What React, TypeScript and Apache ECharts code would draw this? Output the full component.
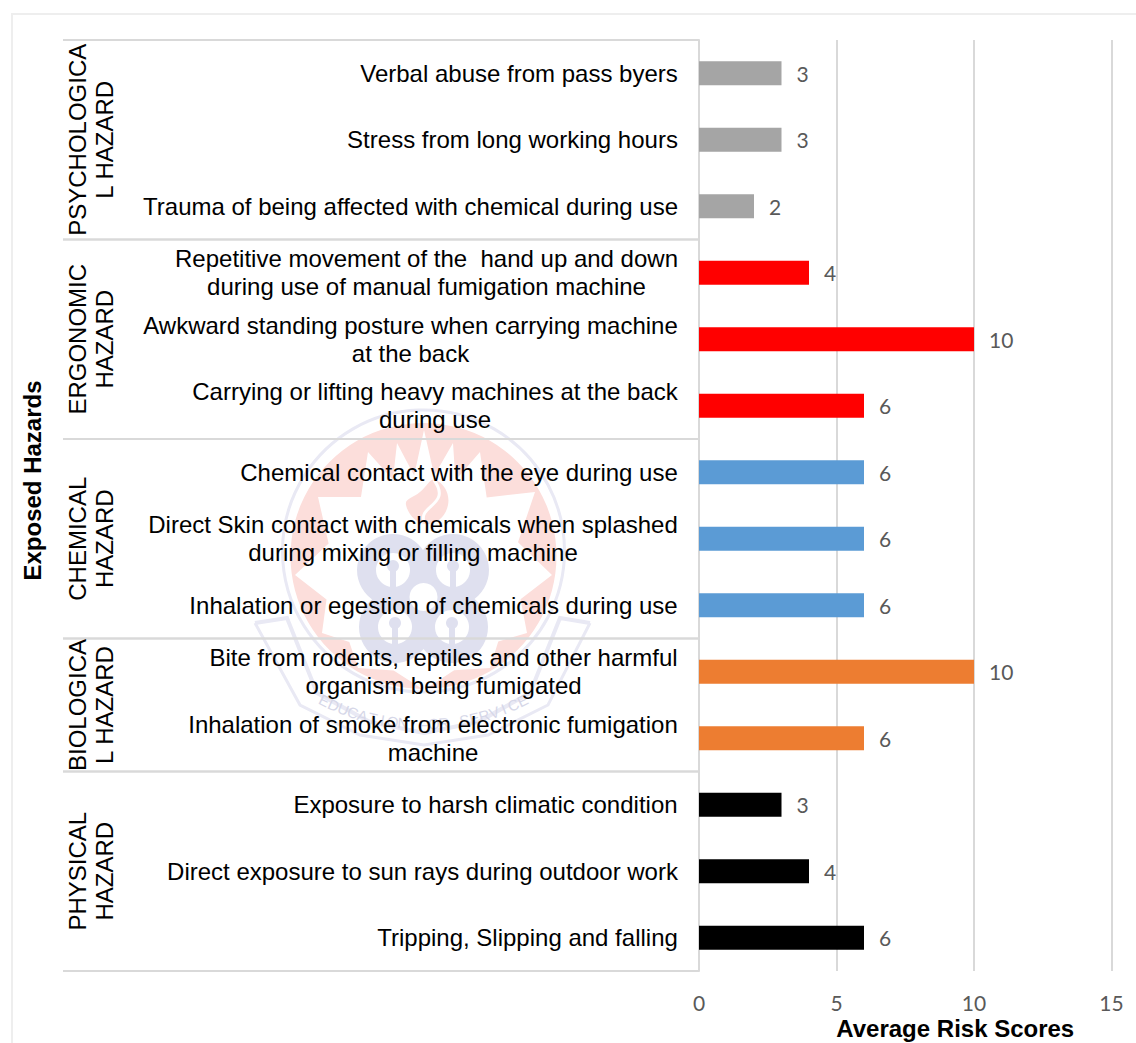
import React, { useEffect, useRef } from "react";
import * as echarts from "echarts";

// Hazard items, listed from the top row to the bottom row.
const hazardItems = [
  "Verbal abuse from pass byers",
  "Stress from long working hours",
  "Trauma of being affected with chemical during use",
  "Repetitive movement of the  hand up and down\nduring use of manual fumigation machine",
  "Awkward standing posture when carrying machine\nat the back",
  "Carrying or lifting heavy machines at the back\nduring use",
  "Chemical contact with the eye during use",
  "Direct Skin contact with chemicals when splashed\nduring mixing or filling machine",
  "Inhalation or egestion of chemicals during use",
  "Bite from rodents, reptiles and other harmful\norganism being fumigated",
  "Inhalation of smoke from electronic fumigation\nmachine",
  "Exposure to harsh climatic condition",
  "Direct exposure to sun rays during outdoor work",
  "Tripping, Slipping and falling",
];
const riskScores = [3, 3, 2, 4, 10, 6, 6, 6, 6, 10, 6, 3, 4, 6];
const barColors = [
  "#a5a5a5", "#a5a5a5", "#a5a5a5",
  "#ff0000", "#ff0000", "#ff0000",
  "#5b9bd5", "#5b9bd5", "#5b9bd5",
  "#ed7d31", "#ed7d31",
  "#000000", "#000000", "#000000",
];
const groupNames = [
  "PSYCHOLOGICA\nL HAZARD",
  "ERGONOMIC\nHAZARD",
  "CHEMICAL\nHAZARD",
  "BIOLOGICA\nL HAZARD",
  "PHYSICAL\nHAZARD",
];
const groupFirstRow = [0, 3, 6, 9, 11];
const groupLastRow = [2, 5, 8, 10, 13];

const ARIAL = '"Liberation Sans", Arial, sans-serif';
const VALUE_FONT = 'Lato, sans-serif';
const LABEL_SIZE = 24;
const LINE_GREY = "#d9d9d9";

// Widest line of a label, so that its shorter line can be centred under it.
function labelBlockWidth(label: string): number {
  const ctx = document.createElement("canvas").getContext("2d")!;
  ctx.font = `${LABEL_SIZE}px "Liberation Sans"`;
  return Math.ceil(Math.max(...label.split("\n").map((l) => ctx.measureText(l).width)));
}

// Faint university crest printed behind the chart.
function crestElements(): any[] {
  const RED = "#fcdedb";
  const LILAC = "#dfe0ef";
  const RING = "#e9e9f4";
  const cx = 423.5;
  const cy = 575;
  const tips: [number, number][] = [
    [424, 430], [453, 443], [480, 452], [535, 492], [552, 575], [527, 633], [490, 668],
    [424, 690], [358, 668], [322, 633], [295, 575], [318, 497], [368, 452], [397, 443],
  ];
  const star: [number, number][] = [];
  tips.forEach((t, i) => {
    const n = tips[(i + 1) % tips.length];
    star.push(t);
    const mx = (t[0] + n[0]) / 2 - cx;
    const my = (t[1] + n[1]) / 2 - cy;
    const d = Math.hypot(mx, my);
    star.push([cx + (mx / d) * 100, cy + (my / d) * 100]);
  });
  const lobes: [number, number][] = [[393, 570], [453, 570], [395, 627], [452, 627]];
  const motto = "EDUCATION FOR SERVICE";
  const mottoRadius = 222;
  const mottoCy = 502;
  const stepDeg = 2.65;
  const els: any[] = [
    { type: "circle", z: -20, shape: { cx, cy: 551, r: 141 }, style: { fill: "none", stroke: RING, lineWidth: 3 } },
    { type: "circle", z: -19, shape: { cx, cy: 556, r: 133 }, style: { fill: RED } },
    { type: "polygon", z: -18, shape: { points: star }, style: { fill: "#ffffff" } },
    {
      type: "polygon", z: -17,
      shape: { points: [[436, 480], [448, 505], [427, 524], [406, 505], [420, 492]], smooth: 0.5 },
      style: { fill: RED },
    },
    {
      type: "bezierCurve", z: -16,
      shape: { x1: 434, y1: 480, x2: 424, y2: 522, cpx1: 452, cpy1: 505, cpx2: 418, cpy2: 505 },
      style: { fill: "none", stroke: "#ffffff", lineWidth: 3 },
    },
    {
      type: "polyline", z: -17,
      shape: { points: [[255, 623], [287, 618], [317, 693], [370, 722], [424, 733], [478, 722], [530, 693], [560, 618], [590, 623]] },
      style: { fill: "none", stroke: RING, lineWidth: 4 },
    },
    {
      type: "polyline", z: -17,
      shape: { points: [[255, 623], [300, 705], [360, 735], [424, 745], [488, 735], [548, 705], [590, 623]] },
      style: { fill: "none", stroke: RING, lineWidth: 3 },
    },
  ];
  lobes.forEach(([x, y]) => {
    els.push({ type: "circle", z: -16, shape: { cx: x, cy: y, r: 36 }, style: { fill: LILAC } });
    els.push({ type: "circle", z: -15, shape: { cx: x, cy: y, r: 17 }, style: { fill: "#ffffff" } });
    els.push({ type: "circle", z: -14, shape: { cx: x, cy: y - 4, r: 6 }, style: { fill: LILAC } });
    // Stem that turns each opening into a keyhole.
    els.push({ type: "rect", z: -14, shape: { x: x - 3, y: y - 4, width: 6, height: 22 }, style: { fill: LILAC } });
  });
  els.push({ type: "circle", z: -13, shape: { cx, cy: 597, r: 14 }, style: { fill: "#ffffff" } });
  // Motto letters follow the curve of the ribbon.
  motto.split("").forEach((ch, i) => {
    const deg = (i - (motto.length - 1) / 2) * stepDeg;
    const rad = (deg * Math.PI) / 180;
    if (ch === " ") return;
    els.push({
      type: "text", z: -12,
      x: cx + mottoRadius * Math.sin(rad),
      y: mottoCy + mottoRadius * Math.cos(rad),
      rotation: rad,
      style: {
        text: ch, fill: "#d6d7e8", font: `15px ${ARIAL}`,
        textAlign: "center", textVerticalAlign: "middle",
      },
    });
  });
  return els;
}

export default function App() {
  const ref = useRef<HTMLDivElement>(null);

  useEffect(() => {
    const chart = echarts.init(ref.current!, undefined, { renderer: "svg" });
    const rich: Record<string, any> = {};
    hazardItems.forEach((label, i) => {
      rich[`r${i}`] = {
        width: labelBlockWidth(label),
        align: "center",
        fontFamily: "Liberation Sans",
        fontSize: LABEL_SIZE,
        lineHeight: 28,
        color: "#000000",
      };
    });

    chart.setOption({
      animation: false,
      backgroundColor: "#ffffff",
      grid: { left: 699, top: 40, width: 412.5, height: 931, containLabel: false, outerBoundsMode: "none" },
      xAxis: {
        type: "value",
        position: "bottom",
        min: 0,
        max: 15,
        interval: 5,
        name: "Average Risk Scores",
        nameLocation: "middle",
        nameGap: 45,
        nameMoveOverlap: false,
        nameTextStyle: {
          fontFamily: ARIAL, fontSize: 24, fontWeight: "bold", color: "#000000",
          padding: [0, 0, 0, 100],
        },
        axisLine: { show: false },
        axisTick: { show: false },
        axisLabel: { color: "#595959", fontFamily: VALUE_FONT, fontSize: 21, margin: 21 },
        splitLine: { show: true, lineStyle: { color: LINE_GREY, width: 2 } },
      },
      yAxis: {
        type: "category",
        inverse: true,
        data: hazardItems,
        name: "Exposed Hazards",
        nameLocation: "middle",
        nameRotate: 90,
        nameGap: 655,
        nameMoveOverlap: false,
        nameTextStyle: {
          fontFamily: ARIAL, fontSize: 24, fontWeight: "bold", color: "#000000",
          padding: [0, 0, 0, 50],
        },
        axisLine: { show: true, lineStyle: { color: LINE_GREY, width: 2 } },
        axisTick: { show: false },
        axisLabel: {
          interval: 0,
          margin: 21,
          align: "right",
          formatter: (value: string, index: number) =>
            value.split("\n").map((l) => `{r${index}|${l}}`).join("\n"),
          rich,
        },
      },
      series: [
        {
          type: "bar",
          barWidth: 24,
          z: 3,
          data: riskScores.map((value, i) => ({ value, itemStyle: { color: barColors[i] } })),
          label: {
            show: true,
            position: "right",
            distance: 15,
            color: "#595959",
            fontFamily: VALUE_FONT,
            fontSize: 21,
          },
        },
        {
          // Hazard group brackets: separators and rotated names left of the item labels.
          type: "custom",
          silent: true,
          clip: false,
          encode: { x: 0, y: 1 },
          data: groupNames.map((_, i) => [0, groupFirstRow[i]]),
          renderItem: (params: any, api: any) => {
            const i = params.dataIndex;
            const band = api.size([0, 1])[1];
            const right = api.coord([0, 0])[0];
            const top = api.coord([0, groupFirstRow[i]])[1] - band / 2;
            const bottom = api.coord([0, groupLastRow[i]])[1] + band / 2;
            const separator = (y: number) => ({
              type: "line",
              shape: { x1: 63, y1: y, x2: right, y2: y },
              style: { stroke: LINE_GREY, lineWidth: 2 },
            });
            return {
              type: "group",
              children: [
                separator(top),
                separator(bottom),
                {
                  type: "text",
                  x: 91,
                  y: (top + bottom) / 2,
                  rotation: Math.PI / 2,
                  style: {
                    text: groupNames[i],
                    fill: "#000000",
                    font: `${LABEL_SIZE}px ${ARIAL}`,
                    lineHeight: 27,
                    textAlign: "center",
                    textVerticalAlign: "middle",
                  },
                },
              ],
            };
          },
        },
      ],
      graphic: [
        ...crestElements(),
        {
          type: "polyline",
          z: -30,
          shape: { points: [[12, 1043], [12, 14], [1136, 14]] },
          style: { fill: "none", stroke: "#eeeeee", lineWidth: 2 },
        },
      ],
    });
    return () => chart.dispose();
  }, []);

  return (
    <div
      ref={ref}
      style={{ position: "absolute", left: 0, top: 0, width: 1136, height: 1043 }}
    />
  );
}
